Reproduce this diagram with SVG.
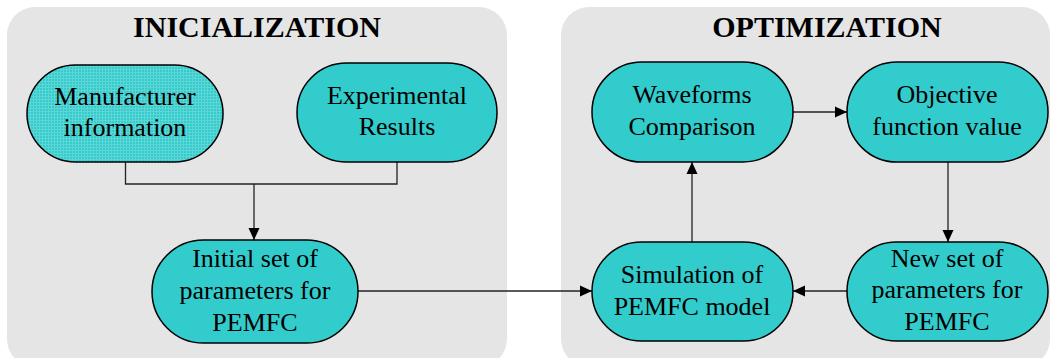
<svg xmlns="http://www.w3.org/2000/svg" width="1050" height="358" viewBox="0 0 1050 358">
<defs>
<style>
.panel{fill:#e5e5e5;stroke:none}
.title{font-family:"Liberation Serif","Times New Roman",Times,serif;font-weight:bold;font-size:30px;fill:#000;text-anchor:middle}
.node{fill:#33cccc;stroke:#000;stroke-width:1.5}
.lbl{font-family:"Liberation Serif","Times New Roman",Times,serif;font-size:26px;fill:#000;text-anchor:middle}
.conn{fill:none;stroke:#222;stroke-width:1.3}
</style>
<pattern id="grid" width="3" height="3" patternUnits="userSpaceOnUse">
<rect width="3" height="3" fill="#33cccc"/>
<path d="M0 0.5H3M0.5 0V3" stroke="#5ed6d6" stroke-width="1"/>
</pattern>
<marker id="arr" markerWidth="12" markerHeight="12" refX="12" refY="6" orient="auto" markerUnits="userSpaceOnUse">
<path d="M0 0.5L12 6L0 11.5Z" fill="#000"/>
</marker>
</defs>
<rect class="panel" x="7" y="7" width="500" height="360" rx="28"/>
<rect class="panel" x="561" y="7" width="489" height="360" rx="28"/>
<text class="title" x="257" y="37">INICIALIZATION</text>
<text class="title" x="827" y="37">OPTIMIZATION</text>
<g id="connectors">
<path class="conn" d="M125.5 162V184H397V162"/>
<path class="conn" d="M254 184V240" marker-end="url(#arr)"/>
<path class="conn" d="M358 291H592" marker-end="url(#arr)"/>
<path class="conn" d="M692 242V162" marker-end="url(#arr)"/>
<path class="conn" d="M793 112H847" marker-end="url(#arr)"/>
<path class="conn" d="M948 162V242" marker-end="url(#arr)"/>
<path class="conn" d="M847 291H793" marker-end="url(#arr)"/>
</g>
<g id="manufacturer">
<rect class="node" x="27" y="65" width="196" height="97" rx="48.5" style="fill:url(#grid)"/>
<text class="lbl" x="125" y="105">Manufacturer</text>
<text class="lbl" x="125" y="136">information</text>
</g>
<g id="experimental">
<rect class="node" x="297" y="63" width="200" height="99" rx="49.5"/>
<text class="lbl" x="397" y="104">Experimental</text>
<text class="lbl" x="397" y="135">Results</text>
</g>
<g id="initial">
<rect class="node" x="152" y="240" width="206" height="103" rx="51.5"/>
<text class="lbl" x="255" y="267">Initial set of</text>
<text class="lbl" x="255" y="299">parameters for</text>
<text class="lbl" x="255" y="331">PEMFC</text>
</g>
<g id="waveforms">
<rect class="node" x="592" y="62" width="201" height="100" rx="50"/>
<text class="lbl" x="692" y="103">Waveforms</text>
<text class="lbl" x="692" y="135">Comparison</text>
</g>
<g id="objective">
<rect class="node" x="847" y="62" width="201" height="100" rx="50"/>
<text class="lbl" x="947" y="103">Objective</text>
<text class="lbl" x="947" y="135">function value</text>
</g>
<g id="simulation">
<rect class="node" x="592" y="242" width="201" height="99" rx="49.5"/>
<text class="lbl" x="692" y="283">Simulation of</text>
<text class="lbl" x="692" y="315">PEMFC model</text>
</g>
<g id="newset">
<rect class="node" x="847" y="242" width="201" height="99" rx="49.5"/>
<text class="lbl" x="947" y="267">New set of</text>
<text class="lbl" x="947" y="298">parameters for</text>
<text class="lbl" x="947" y="330">PEMFC</text>
</g>
</svg>
